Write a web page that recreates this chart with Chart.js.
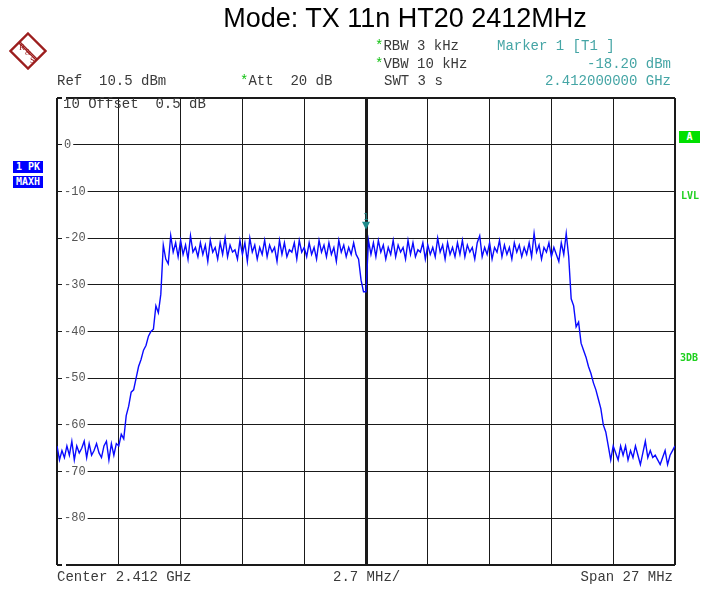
<!DOCTYPE html>
<html>
<head>
<meta charset="utf-8">
<script src="https://cdn.jsdelivr.net/npm/chart.js@4/dist/chart.umd.min.js"></script>
<style>
  body { margin: 0; background: #fff; }
  #wrap { position: relative; width: 704px; height: 590px; background: #fff; overflow: hidden; }
  #spec { position: absolute; left: 0; top: 0; }
  .t { position: absolute; font: 14px "Liberation Mono", "DejaVu Sans Mono", monospace; color: #3a3a3a; line-height: 14px; white-space: pre; }
  .g { color: #10c010; }
  .teal { color: #45a5a5; }
  .box { position: absolute; font: bold 10px "DejaVu Sans Mono", monospace; color: #fff; line-height: 12px; text-align: center; white-space: pre; }
  #title { position: absolute; left: 0; width: 810px; top: 3px; text-align: center; font: 27px "Liberation Sans", Arial, sans-serif; color: #000; }
</style>
</head>
<body>
<div id="wrap">
  <canvas id="spec" width="704" height="590"></canvas>
  <div id="title">Mode: TX 11n HT20 2412MHz</div>

  <svg style="position:absolute;left:9px;top:32px" width="38" height="38" viewBox="0 0 38 38">
    <polygon points="19,1.5 36.5,19 19,36.5 1.5,19" fill="none" stroke="#9c1e1e" stroke-width="2.4"/>
    <line x1="9.5" y1="10.5" x2="27.5" y2="28.5" stroke="#9c1e1e" stroke-width="1.2"/>
    <line x1="10.5" y1="9.5" x2="28.5" y2="27.5" stroke="#9c1e1e" stroke-width="1.2"/>
    <text x="10" y="18" font-size="9" font-family="Liberation Serif" fill="#9c1e1e">R</text>
    <text x="16" y="23" font-size="8" font-family="Liberation Serif" fill="#9c1e1e">&amp;</text>
    <text x="21" y="31" font-size="9" font-family="Liberation Serif" fill="#9c1e1e">S</text>
  </svg>

  <div class="t" style="left:375px;top:39px"><span class="g">*</span>RBW 3 kHz</div>
  <div class="t teal" style="left:497px;top:39px">Marker 1 [T1 ]</div>
  <div class="t" style="left:375px;top:57px"><span class="g">*</span>VBW 10 kHz</div>
  <div class="t teal" style="right:33px;top:57px">-18.20 dBm</div>
  <div class="t" style="left:57px;top:74px">Ref  10.5 dBm</div>
  <div class="t" style="left:240px;top:74px"><span class="g">*</span>Att  20 dB</div>
  <div class="t" style="left:384px;top:74px">SWT 3 s</div>
  <div class="t teal" style="right:33px;top:74px">2.412000000 GHz</div>

  <div class="t" style="left:63px;top:97px">10 Offset  0.5 dB</div>

  <div class="box" style="left:13px;top:161px;width:30px;height:12px;background:#0000ff">1 PK</div>
  <div class="box" style="left:13px;top:176px;width:30px;height:12px;background:#0000ff">MAXH</div>
  <div class="box" style="left:679px;top:131px;width:21px;height:12px;background:#00e000">A</div>
  <div class="box" style="left:679px;top:190px;width:22px;color:#20d020">LVL</div>
  <div class="box" style="left:678px;top:352px;width:22px;color:#20d020">3DB</div>

  <div class="t" style="left:57px;top:570px">Center 2.412 GHz</div>
  <div class="t" style="left:333px;top:570px">2.7 MHz/</div>
  <div class="t" style="right:31px;top:570px">Span 27 MHz</div>
</div>

<script>
// sweep: 251 points over the 27 MHz span, offsets from centre 2.412 GHz
const sweepStartMHz = -13.5;
const sweepStepMHz = 0.108;

// trace 1 (PK, MAXH) in dBm
const traceDbm = [
  -64.5, -67.5, -65.5, -67, -64.5, -66.5, -63.5, -67.5, -64.5, -66,
  -65, -63.5, -67, -64, -66.5, -65.5, -64, -66, -67, -64.5,
  -63.5, -67.5, -64, -66.5, -64, -64.5, -62, -63, -58, -56,
  -53, -52.5, -50, -47.5, -46, -44, -43, -41, -40, -39.5,
  -34.5, -36, -32, -21.5, -24.5, -25.5, -19.5, -23, -21, -24,
  -20.5, -23.5, -21.5, -24.5, -19.5, -23, -22, -24, -21, -23.5,
  -21.5, -25, -20.5, -23, -22, -24.5, -21, -23.5, -20, -24,
  -21.5, -23, -22.5, -24.5, -20.5, -23.5, -21, -25, -20, -23,
  -21.5, -24.5, -22, -23.5, -20.5, -24, -21.5, -23, -22, -25,
  -20.5, -23.5, -21, -24, -22.5, -23, -21, -24.5, -20.5, -23,
  -22, -24, -21, -23.5, -22, -24.5, -20.5, -23, -21.5, -24,
  -21, -23.5, -22, -25, -20.5, -23, -21.5, -24, -22, -23.5,
  -21, -23.5, -24.5, -29, -31.5, -31.5, -20.5, -23.5, -21, -24,
  -20.5, -23, -21.5, -24.5, -22, -23.5, -20.5, -24, -21.5, -23,
  -22, -24.5, -20.5, -23.5, -21, -24, -22.5, -23, -21, -24.5,
  -21.5, -23.5, -22, -24, -20, -23, -21.5, -24.5, -21, -23.5,
  -22, -24, -21, -23.5, -20.5, -24, -21.5, -23, -22, -24.5,
  -21, -19.5, -24, -22, -23.5, -21, -24.5, -22, -23, -20.5,
  -24, -21.5, -23.5, -22, -24.5, -21, -23, -21.5, -24, -22,
  -23.5, -21, -24, -19, -23, -21.5, -24.5, -22, -23, -21,
  -24, -22, -23.5, -25, -21, -23.5, -19, -24, -33, -34.5,
  -39, -38, -42.5, -44, -45.5, -47.5, -49, -51, -52.5, -54.5,
  -56.5, -60, -61.5, -64.5, -67.5, -64.5, -66, -67.5, -64.5, -66.5,
  -64.5, -67.5, -65.5, -67, -64.5, -66.5, -68.5, -66, -63.5, -67,
  -65.5, -67, -66.5, -67.5, -68.5, -67, -65.5, -68.5, -66.5, -65.5, -64.5
];

const freqGridMHz = [-13.5, -10.8, -8.1, -5.4, -2.7, 0, 2.7, 5.4, 8.1, 10.8, 13.5];
const levelGridDb = [10, 0, -10, -20, -30, -40, -50, -60, -70, -80, -90];

const markerMHz = 0;
const markerDbm = -18.2;

const points = traceDbm.map((v, i) => ({ x: sweepStartMHz + i * sweepStepMHz, y: v }));

// marker 1: small teal triangle pointing down onto the trace
const markerPlugin = {
    id: 'marker1',
    afterDatasetsDraw(chart) {
        const c = chart.ctx;
        const px = chart.scales.x.getPixelForValue(markerMHz);
        const py = chart.scales.y.getPixelForValue(markerDbm);
        c.save();
        c.fillStyle = '#1f8c8c';
        c.beginPath();
        c.moveTo(px - 4, py - 8);
        c.lineTo(px + 4, py - 8);
        c.lineTo(px, py);
        c.closePath();
        c.fill();
        c.font = '9px "DejaVu Sans Mono"';
        c.textAlign = 'center';
        c.fillText('1', px, py - 10);
        c.restore();
    }
};

const edgeWidth = (v, lo, hi) => (v === lo || v === hi) ? 2 : 1;

new Chart(document.getElementById('spec').getContext('2d'), {
    type: 'line',
    data: {
        datasets: [{
            data: points,
            borderColor: '#0a0aff',
            borderWidth: 1.4,
            pointRadius: 0,
            tension: 0,
            fill: false
        }]
    },
    options: {
        responsive: false,
        animation: false,
        // y ticks are mirrored but chart.js still reserves 2 * padding for them
        layout: { padding: { left: 43, top: 98, right: 29, bottom: 25 } },
        plugins: { legend: { display: false }, tooltip: { enabled: false } },
        scales: {
            x: {
                type: 'linear',
                min: -13.5,
                max: 13.5,
                afterBuildTicks: s => { s.ticks = freqGridMHz.map(v => ({ value: v })); },
                ticks: { display: false },
                border: { display: false },
                grid: {
                    drawTicks: false,
                    color: '#1a1a1a',
                    lineWidth: c => c.tick.value === 0 ? 3 : edgeWidth(c.tick.value, -13.5, 13.5)
                }
            },
            y: {
                min: -90,
                max: 10,
                afterBuildTicks: s => { s.ticks = levelGridDb.map(v => ({ value: v })); },
                border: { display: false },
                grid: {
                    drawTicks: false,
                    color: '#1a1a1a',
                    lineWidth: c => edgeWidth(c.tick.value, -90, 10)
                },
                ticks: {
                    mirror: true,
                    padding: 7,
                    color: '#555',
                    font: { family: 'Liberation Mono', size: 12 },
                    showLabelBackdrop: true,
                    backdropColor: '#fff',
                    backdropPadding: { x: 2, y: 0 },
                    callback: v => (v === 10 || v === -90) ? '' : String(v)
                }
            }
        }
    },
    plugins: [markerPlugin]
});
</script>
</body>
</html>
